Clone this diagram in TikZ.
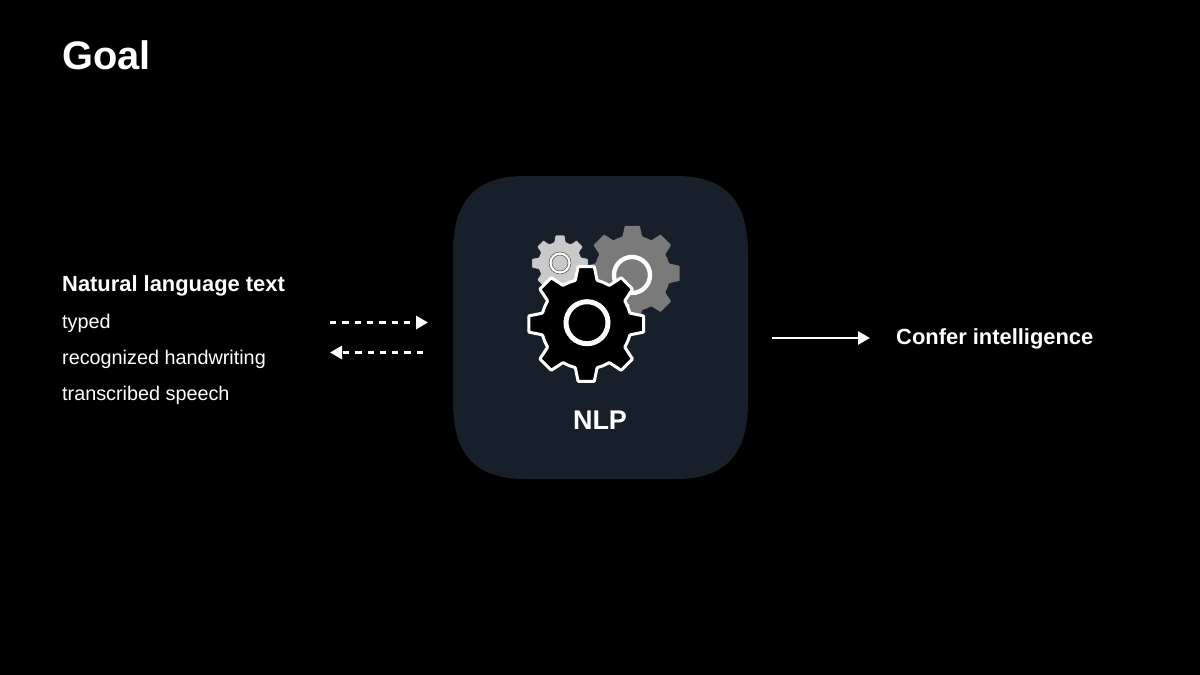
\documentclass[tikz,border=0pt]{standalone}
\usepackage{fontspec}
\setmainfont{Liberation Sans}
\usetikzlibrary{arrows.meta,calc}
\definecolor{panelc}{HTML}{17202A}
\definecolor{grayg}{HTML}{7A7A7A}
\definecolor{lightg}{HTML}{C9C9C9}
\tikzset{
  lbl/.style={anchor=base west,inner sep=0pt,text=white},
  boldlbl/.style={lbl,font=\bfseries\fontsize{21.9}{26}\selectfont},
  plainlbl/.style={lbl,font=\fontsize{19.8}{24}\selectfont},
  arrowline/.style={draw=white,line width=2.6pt,-{Triangle[length=12pt,width=13pt]}},
  dashline/.style={arrowline,line width=3pt,dash pattern=on 6.3pt off 6pt},
}
% centre x, y, outer r, root r, tooth half-angle at tip, at base, style
\newcommand{\gearshape}[7]{%
  \path[#7,rounded corners=.8pt]
    ($(#1,#2)+(-22.5:#4)$)
    \foreach \k in {0,45,...,315}{
      -- ($(#1,#2)+(\k-#6:#4)$) -- ($(#1,#2)+(\k-#5:#3)$) -- ($(#1,#2)+(\k+#5:#3)$) -- ($(#1,#2)+(\k+#6:#4)$) -- ($(#1,#2)+(\k+22.5:#4)$)
    } -- cycle;%
}
\begin{document}
\begin{tikzpicture}[x=1pt,y=-1pt]
\useasboundingbox (0,0) rectangle (1200,675);
\fill[black] (0,0) rectangle (1200,675);
% squircle panel
\fill[panelc] (453,253) .. controls (453,200) and (476,176) .. (525,176)
  -- (676,176) .. controls (725,176) and (748,200) .. (748,253)
  -- (748,402) .. controls (748,455) and (725,479) .. (676,479)
  -- (525,479) .. controls (476,479) and (453,455) .. (453,402) -- cycle;
% gears
\gearshape{632.3}{273.3}{48}{38}{9}{15}{fill=grayg}
\draw[white,line width=4.4pt] (632,275) circle (18);
\gearshape{560}{263.3}{28.5}{22}{9.5}{16}{fill=lightg,draw=panelc,line width=.6pt}
\fill[white] (560,263) circle (11);
\draw[black!70,line width=.5pt] (560,263) circle (11);
\fill[lightg] (560,263) circle (8);
\draw[black!70,line width=.5pt] (560,263) circle (8);
\gearshape{586.2}{324}{58}{45}{8}{14}{fill=black,draw=white,line width=3pt}
\draw[white,fill=black,line width=5pt] (587,322.7) circle (21);
% text
\node[lbl,font=\bfseries\fontsize{39.8}{48}\selectfont] (title) at (62,69) {Goal};
\node[boldlbl] (nl) at (62,291) {Natural language text};
\node[plainlbl] (typed) at (62,328) {typed};
\node[plainlbl] (hand) at (62,364) {recognized handwriting};
\node[plainlbl] (speech) at (62,400) {transcribed speech};
\node[lbl,anchor=base,font=\bfseries\fontsize{27}{32}\selectfont] (nlp) at (600,429) {NLP};
\node[boldlbl] (confer) at (896,344) {Confer intelligence};
% arrows
\coordinate (a1) at (330,322.5);
\coordinate (a2) at (428,322.5);
\coordinate (b1) at (423,352.5);
\coordinate (b2) at (330,352.5);
\coordinate (c1) at (772,338);
\coordinate (c2) at (870,338);
\draw[dashline] (a1) -- (a2);
\draw[dashline] (b1) -- (b2);
\draw[arrowline] (c1) -- (c2);
\end{tikzpicture}
\end{document}
